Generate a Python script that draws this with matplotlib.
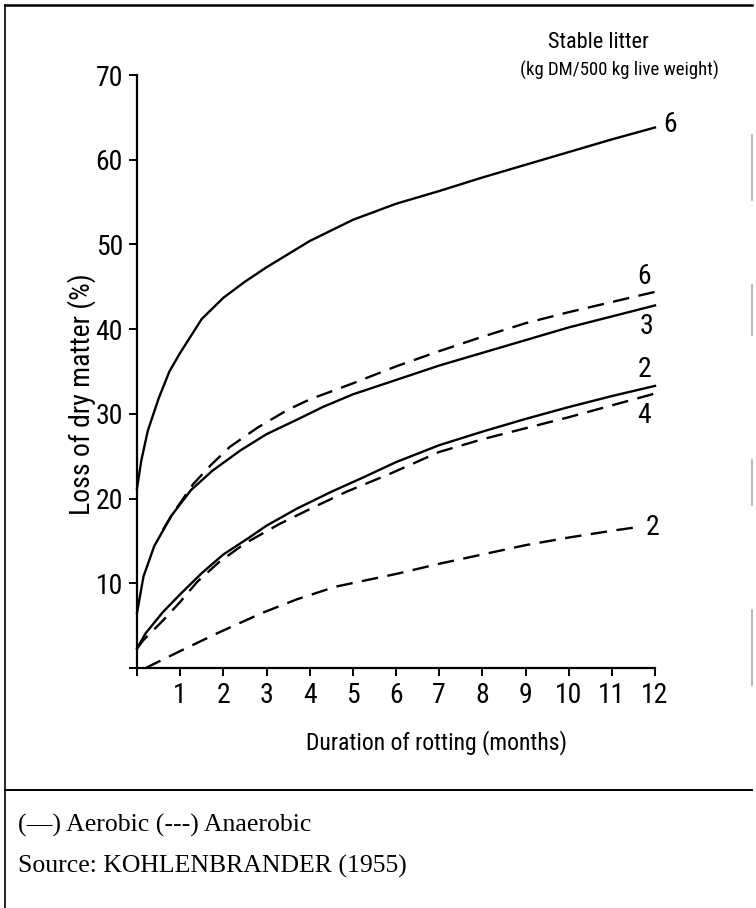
import matplotlib
matplotlib.use("Agg")
import matplotlib.pyplot as plt
from matplotlib import font_manager

# curves (months, % loss of dry matter)
aer6_x = [0, 0.1, 0.25, 0.5, 0.75, 1, 1.5, 2, 2.5, 3, 4, 5, 6, 7, 8, 9, 10, 11, 12]
aer6_y = [21.2, 24.5, 28.0, 31.8, 35.0, 37.2, 41.2, 43.7, 45.6, 47.3, 50.4, 52.9, 54.8, 56.3, 57.9, 59.4, 60.9, 62.4, 63.8]

aer3_x = [0, 0.15, 0.4, 0.8, 1.25, 1.75, 2.4, 3, 3.7, 4.3, 5, 6, 7, 8, 9, 10, 11, 12]
aer3_y = [6.5, 10.8, 14.4, 18.0, 21.0, 23.3, 25.7, 27.6, 29.3, 30.8, 32.3, 34.0, 35.7, 37.2, 38.7, 40.2, 41.5, 42.8]

aer2_x = [0, 0.2, 0.6, 1, 1.5, 2, 2.6, 3, 3.7, 4.5, 5.2, 6, 7, 8, 9, 10, 11, 12]
aer2_y = [2.3, 4.1, 6.6, 8.7, 11.2, 13.4, 15.4, 16.8, 18.8, 20.8, 22.4, 24.3, 26.3, 27.9, 29.4, 30.8, 32.1, 33.3]

ana6_x = [0.6, 0.8, 1.3, 1.7, 2.15, 2.8, 3.5, 4, 5, 6, 7, 8, 9, 10, 11, 12]
ana6_y = [16.3, 18.0, 21.7, 23.9, 26.1, 28.4, 30.5, 31.7, 33.6, 35.6, 37.4, 39.1, 40.7, 42.0, 43.2, 44.4]

ana4_x = [0, 0.15, 0.6, 1, 1.4, 1.9, 2.5, 3.3, 4.1, 4.85, 5.85, 7, 8, 9, 10, 11, 12]
ana4_y = [2.3, 3.3, 5.6, 7.8, 10.2, 12.5, 14.7, 17.0, 19.0, 20.8, 22.9, 25.5, 27.0, 28.3, 29.6, 31.0, 32.4]

ana2_x = [0.2, 1, 1.9, 2.9, 3.7, 4.6, 6, 7, 8, 9, 10, 11, 11.55]
ana2_y = [0, 2.0, 4.2, 6.5, 8.1, 9.6, 11.1, 12.3, 13.4, 14.5, 15.4, 16.2, 16.6]

x_ticks = list(range(0, 13))
y_ticks = list(range(0, 71, 10))

W, H = 756, 908

installed = {f.name for f in font_manager.fontManager.ttflist}
narrow = "DejaVu Sans"
for cand in ["Liberation Sans Narrow", "Roboto Condensed", "Open Sans Condensed",
             "DejaVu Sans Condensed", "Roboto", "Liberation Sans"]:
    if cand in installed:
        narrow = cand
        break
sans = [narrow, "DejaVu Sans"]
serif = ["Liberation Serif", "DejaVu Serif"]

fig = plt.figure(figsize=(W / 100, H / 100), dpi=100)
ax = fig.add_axes([137 / W, 1 - 668 / H, (655 - 137) / W, (668 - 75) / H])

lw = 1.7
dash = (0, (7, 4))
ax.plot(aer6_x, aer6_y, color="black", lw=lw, clip_on=False)
ax.plot(aer3_x, aer3_y, color="black", lw=lw, clip_on=False)
ax.plot(aer2_x, aer2_y, color="black", lw=lw, clip_on=False)
ax.plot(ana6_x, ana6_y, color="black", lw=lw, linestyle=dash, clip_on=False)
ax.plot(ana4_x, ana4_y, color="black", lw=lw, linestyle=dash, clip_on=False)
ax.plot(ana2_x, ana2_y, color="black", lw=lw, linestyle=dash, clip_on=False)

ax.set_xlim(0, 12)
ax.set_ylim(0, 70)
for s in ["top", "right"]:
    ax.spines[s].set_visible(False)
for s in ["left", "bottom"]:
    ax.spines[s].set_linewidth(1.6)

ax.set_xticks(x_ticks)
ax.set_xticklabels([""] + [str(t) for t in x_ticks[1:]], family=sans, fontsize=20)
ax.set_yticks(y_ticks)
ax.set_yticklabels([""] + [str(t) for t in y_ticks[1:]], family=sans, fontsize=20)
ax.tick_params(direction="out", length=6, width=1.4, pad=4)
ax.set_xlabel("Duration of rotting (months)", family=sans, fontsize=17)
ax.set_ylabel("Loss of dry matter (%)", family=sans, fontsize=20)
ax.xaxis.set_label_coords((436 - 137) / 518, -(743 - 668) / 593)
ax.yaxis.set_label_coords((82 - 137) / 518, (668 - 394) / 593)
ax.xaxis.label.set_va("center")
ax.yaxis.label.set_va("center")

# curve end labels
lab = dict(family=sans, fontsize=20, ha="center", va="center", clip_on=False)
ax.text(12.35, 64.2, "6", **lab)
ax.text(11.75, 46.2, "6", **lab)
ax.text(11.8, 40.3, "3", **lab)
ax.text(11.75, 35.2, "2", **lab)
ax.text(11.75, 29.8, "4", **lab)
ax.text(11.95, 16.6, "2", **lab)

fig.text(598 / W, 1 - 42 / H, "Stable litter", family=sans, fontsize=16, ha="center", va="center")
fig.text(619 / W, 1 - 70 / H, "(kg DM/500 kg live weight)", family=sans, fontsize=13.5, ha="center", va="center")

# frame of the scanned box
fig.add_artist(plt.Line2D([5 / W, 752 / W], [1 - 5 / H, 1 - 5 / H], color="black", lw=1.8))
fig.add_artist(plt.Line2D([5 / W, 5 / W], [1 - 5 / H, 0], color="black", lw=1.2))
fig.add_artist(plt.Line2D([5 / W, 752 / W], [1 - 790 / H, 1 - 790 / H], color="black", lw=1.4))
for y0, y1 in [(135, 200), (285, 335), (460, 505), (610, 685)]:
    fig.add_artist(plt.Line2D([752 / W, 752 / W], [1 - y0 / H, 1 - y1 / H], color="#aaaaaa", lw=1.2))

fig.text(18 / W, 1 - 825 / H, "(\u2014) Aerobic (---) Anaerobic", family=serif, fontsize=18.5, va="center")
fig.text(18 / W, 1 - 866 / H, "Source: KOHLENBRANDER (1955)", family=serif, fontsize=18.5, va="center")

fig.savefig("out.png", dpi=100)
